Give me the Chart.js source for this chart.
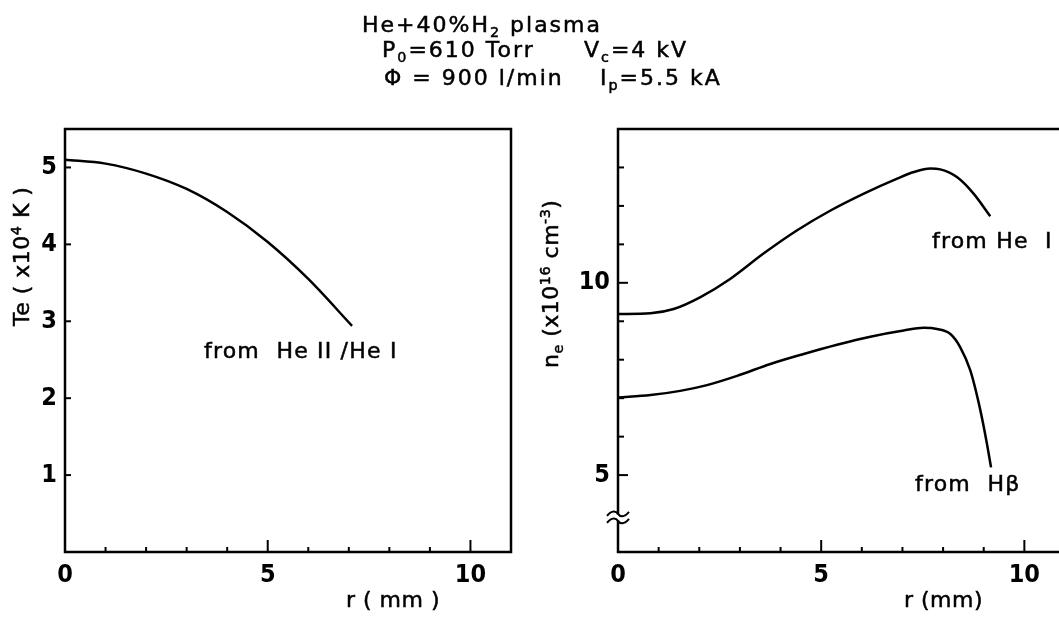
<!DOCTYPE html>
<html>
<head>
<meta charset="utf-8">
<script src="https://cdn.jsdelivr.net/npm/chart.js@4.4.1/dist/chart.umd.min.js"></script>
<style>
  html, body { margin:0; padding:0; background:#fff; }
  body { width:1059px; height:628px; overflow:hidden; position:relative; font-family:"DejaVu Sans", "Liberation Sans", sans-serif; color:#000; }
  .box { position:absolute; top:0; height:628px; }
  .t { position:absolute; white-space:nowrap; line-height:1; -webkit-text-stroke:0.5px #000; }
  .hdr { font-size:22px; letter-spacing:2px; }
  .ann { font-size:22px; letter-spacing:1.2px; }
  .ax { font-size:22px; letter-spacing:0.5px; }
  .rot { transform-origin:0 0; transform:rotate(-90deg); }
  sub, sup { line-height:0; font-size:65%; }
</style>
</head>
<body>
<div class="box" style="left:0;width:530px;"><canvas id="c1"></canvas></div>
<div class="box" style="left:530px;width:560px;"><canvas id="c2"></canvas></div>

<div class="t hdr" style="left:362px;top:14px;">He+40%H<sub>2</sub> plasma</div>
<div class="t hdr" style="left:382px;top:39px;">P<sub>0</sub>=610 Torr</div>
<div class="t hdr" style="left:584px;top:39px;">V<sub>c</sub>=4 kV</div>
<div class="t hdr" style="left:384px;top:67px;">Φ = 900 l/min</div>
<div class="t hdr" style="left:600px;top:67px;">I<sub>p</sub>=5.5 kA</div>

<div class="t ann" style="left:204px;top:340px;">from&nbsp; He II /He I</div>
<div class="t ann" style="left:932px;top:230px;">from He&nbsp; I</div>
<div class="t ann" style="left:915px;top:473px;">from&nbsp; Hβ</div>

<div class="t ax" style="left:346px;top:589px;">r ( mm )</div>
<div class="t ax" style="left:904px;top:589px;">r (mm)</div>
<div class="t ax rot" style="left:11px;top:326px;">Te ( x10<sup>4</sup> K )</div>
<div class="t ax rot" style="left:540px;top:368px;">n<sub>e</sub> (x10<sup>16</sup> cm<sup>-3</sup>)</div>

<script>
// ---------------- data ----------------
const rTe   = [0, 1, 2, 3, 4, 5, 6, 7.08];
const teVal = [5.10, 5.05, 4.92, 4.72, 4.42, 4.03, 3.55, 2.94];

const rHeI  = [0, 0.8, 1.37, 2.03, 2.76, 3.58, 4.4, 5.23, 6.05, 6.87, 7.28, 7.69, 7.93, 8.34, 8.75, 9.16];
const neHeI = [9.19, 9.21, 9.32, 9.63, 10.10, 10.76, 11.36, 11.88, 12.32, 12.71, 12.88, 12.97, 12.95, 12.75, 12.32, 11.73];

const rHb   = [0, 0.8, 1.53, 2.19, 2.93, 3.75, 4.57, 5.39, 6.21, 7.03, 7.52, 7.85, 8.18, 8.42, 8.67, 8.92, 9.08, 9.18];
const neHb  = [7.02, 7.08, 7.19, 7.34, 7.58, 7.89, 8.15, 8.39, 8.60, 8.76, 8.83, 8.80, 8.67, 8.33, 7.72, 6.67, 5.81, 5.20];

const rTickLabels  = [0, 5, 10];
const teTickLabels = [1, 2, 3, 4, 5];
const neTickLabels = [5, 10];
const rMinorTicks  = [1, 2, 3, 4, 5, 6, 7, 8, 9, 10];
const teMinorTicks = [1, 2, 3, 4, 5];
const neMinorTicks = [5, 6, 7, 8, 9, 10, 11, 12, 13];
const neBreakAt = 3.9;

// ---------------- helpers ----------------
const pts = (xs, ys) => xs.map((x, i) => ({ x: x, y: ys[i] }));
const tickFont = { family: '"Liberation Sans Narrow", "DejaVu Sans Condensed", "Liberation Sans", sans-serif', size: 25, weight: 'bold' };

const framePlugin = {
  id: 'frame',
  afterDraw(chart, args, opts) {
    const ctx = chart.ctx, a = chart.chartArea;
    const xs = chart.scales.x, ys = chart.scales.y;
    ctx.save();
    ctx.strokeStyle = '#000';
    ctx.lineCap = 'butt';
    ctx.lineWidth = 2;
    rMinorTicks.forEach(v => {
      const px = xs.getPixelForValue(v);
      const len = (v % 5 === 0) ? 12 : 5;
      ctx.beginPath(); ctx.moveTo(px, a.bottom); ctx.lineTo(px, a.bottom - len); ctx.stroke();
    });
    (opts.yMinor || []).forEach(v => {
      const py = ys.getPixelForValue(v);
      const len = (opts.yMajor || []).includes(v) ? 10 : 6;
      ctx.beginPath(); ctx.moveTo(a.left, py); ctx.lineTo(a.left + len, py); ctx.stroke();
    });
    ctx.lineWidth = 2.5;
    ctx.strokeRect(a.left, a.top, a.right - a.left, a.bottom - a.top);
    if (opts.breakAt !== undefined) {
      const py = ys.getPixelForValue(opts.breakAt);
      ctx.fillStyle = '#fff';
      ctx.fillRect(a.left - 3, py - 3, 6, 6);
      ctx.lineWidth = 2;
      [-3.5, 3.5].forEach(dy => {
        const y0 = py + dy;
        ctx.beginPath();
        ctx.moveTo(a.left - 11, y0 + 2);
        ctx.bezierCurveTo(a.left - 6, y0 - 4, a.left - 2, y0 - 3, a.left, y0);
        ctx.bezierCurveTo(a.left + 2, y0 + 3, a.left + 6, y0 + 4, a.left + 11, y0 - 2);
        ctx.stroke();
      });
    }
    ctx.restore();
  }
};

function lineDs(data) {
  return {
    data: data,
    borderColor: '#000',
    borderWidth: 2.5,
    pointRadius: 0,
    fill: false,
    cubicInterpolationMode: 'monotone',
    tension: 0.4
  };
}

function makeChart(id, datasets, yMin, yMax, yLabels, yWidth, padRight, frameOpts) {
  return new Chart(document.getElementById(id), {
    type: 'line',
    data: { datasets: datasets },
    options: {
      responsive: true,
      maintainAspectRatio: false,
      animation: false,
      events: [],
      layout: { padding: { top: 129, right: padRight, left: 0, bottom: 0 } },
      plugins: { legend: { display: false }, tooltip: { enabled: false }, frame: frameOpts },
      scales: {
        x: {
          type: 'linear', min: 0, max: 11,
          grid: { display: false, drawTicks: false, tickLength: 0 },
          border: { display: false },
          afterBuildTicks: s => { s.ticks = rTickLabels.map(v => ({ value: v })); },
          afterFit: s => { s.height = 76; },
          ticks: { color: '#000', font: tickFont, padding: 8, maxRotation: 0, autoSkip: false }
        },
        y: {
          type: 'linear', min: yMin, max: yMax,
          grid: { display: false, drawTicks: false, tickLength: 0 },
          border: { display: false },
          afterBuildTicks: s => { s.ticks = yLabels.map(v => ({ value: v })); },
          afterFit: s => { s.width = yWidth; },
          ticks: { color: '#000', font: tickFont, padding: 8, autoSkip: false }
        }
      }
    },
    plugins: [framePlugin]
  });
}

makeChart('c1', [lineDs(pts(rTe, teVal))], 0, 5.5, teTickLabels, 65, 19,
  { yMinor: teMinorTicks, yMajor: [] });

makeChart('c2', [lineDs(pts(rHeI, neHeI)), lineDs(pts(rHb, neHb))], 3, 14, neTickLabels, 88, 25,
  { yMinor: neMinorTicks, yMajor: [5, 10], breakAt: neBreakAt });
</script>
</body>
</html>
